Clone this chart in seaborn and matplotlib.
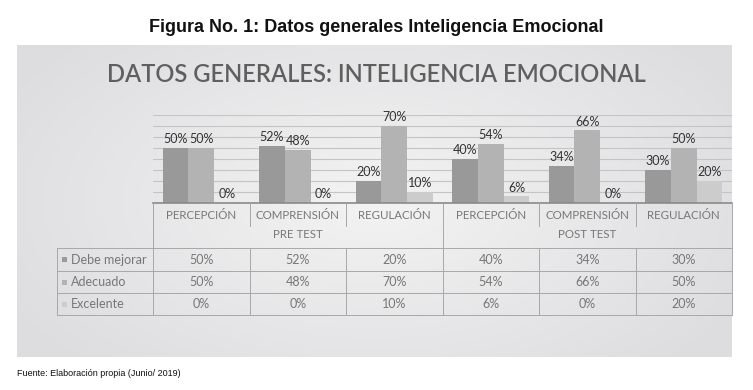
import numpy as np
import pandas as pd
import seaborn as sns
import matplotlib.pyplot as plt
import matplotlib.transforms as mtransforms
from matplotlib.lines import Line2D
from matplotlib.patches import Rectangle

# data
tests = ["PRE TEST", "POST TEST"]
dimensiones = ["PERCEPCIÓN", "COMPRENSIÓN", "REGULACIÓN"]
niveles = ["Debe mejorar", "Adecuado", "Excelente"]
debe_mejorar = [50, 52, 20, 40, 34, 30]
adecuado = [50, 48, 70, 54, 66, 50]
excelente = [0, 0, 10, 6, 0, 20]
colores = ["#999999", "#b3b3b3", "#cccccc"]

W, H = 753, 390
fx = lambda x: x / W
fy = lambda y: 1 - y / H

grupos = [t + "|" + d for t in tests for d in dimensiones]
df = pd.DataFrame({
    "grupo": grupos * 3,
    "nivel": np.repeat(niveles, len(grupos)),
    "valor": debe_mejorar + adecuado + excelente,
})

sns.set_theme(style="white")
plt.rcParams["font.family"] = ["Lato", "DejaVu Sans"]

fig = plt.figure(figsize=(W / 100, H / 100), dpi=100)
fig.patch.set_facecolor("white")

# panel background with a soft radial gradient
bg = fig.add_axes([fx(17), fy(357), fx(732 - 17), (357 - 45) / H], zorder=0)
yy, xx = np.mgrid[-1:1:200j, -1:1:400j]
r = np.sqrt(xx ** 2 + (yy * 0.8) ** 2)
bg.imshow(np.clip(r, 0, 1.2), cmap=sns.blend_palette(["#f3f3f3", "#dddde0"], as_cmap=True),
          aspect="auto", extent=[0, 1, 0, 1], vmin=0, vmax=1.2)
bg.set_axis_off()

fig.text(0.5, fy(27), "Figura No. 1: Datos generales Inteligencia Emocional",
         ha="center", va="center", fontsize=13, fontweight="bold",
         family="Liberation Sans", color="#111111")
fig.text(fx(376), fy(75), "DATOS GENERALES: INTELIGENCIA EMOCIONAL",
         ha="center", va="center", fontsize=17, fontweight="semibold", color="#5f5f5f")
fig.text(fx(17), fy(374), "Fuente: Elaboración propia (Junio/ 2019)",
         ha="left", va="center", fontsize=6.5, family="Liberation Sans", color="#111111")

ax = fig.add_axes([fx(153), fy(203), fx(732 - 153), (203 - 115) / H], zorder=2)
ax.set_facecolor("none")
sns.barplot(data=df, x="grupo", y="valor", hue="nivel", order=grupos, hue_order=niveles,
            palette=colores, width=0.8, saturation=1, legend=False, ax=ax,
            edgecolor="none")
ax.set_ylim(0, 80)
ax.set_xlim(-0.5, len(grupos) - 0.5)
ax.set_yticks(range(0, 81, 10))
ax.yaxis.grid(True, color="#c4c4c4", linewidth=0.8)
ax.set_axisbelow(True)
ax.set_xticks([])
ax.set_yticklabels([])
ax.tick_params(left=False, bottom=False)
ax.set_xlabel("")
ax.set_ylabel("")
for s in ["left", "right", "top"]:
    ax.spines[s].set_visible(False)
ax.spines["bottom"].set_color("#8a8a8a")
ax.spines["bottom"].set_linewidth(1.2)

for cont in ax.containers:
    ax.bar_label(cont, labels=[f"{v:.0f}%" for v in cont.datavalues], padding=2,
                 fontsize=9, color="#333333")

# data table below the axis
bt = mtransforms.blended_transform_factory(ax.transData, fig.transFigure)
line_kw = dict(color="#a8a8a8", linewidth=0.7, zorder=3)

for i, g in enumerate(grupos):
    fig.text(i, fy(215), g.split("|")[1], transform=bt, ha="center", va="center",
             fontsize=8.3, color="#777777")
for j, t in enumerate(tests):
    fig.text(j * 3 + 1, fy(235), t, transform=bt, ha="center", va="center",
             fontsize=8.3, color="#777777")

filas_y = [259.5, 282, 304]
for k, (nom, vals) in enumerate(zip(niveles, [debe_mejorar, adecuado, excelente])):
    fig.add_artist(Rectangle((fx(62), fy(filas_y[k]) - 2.5 / H), 5 / W, 5 / H,
                             facecolor=colores[k], edgecolor="none",
                             transform=fig.transFigure))
    fig.text(fx(71), fy(filas_y[k]), nom, ha="left", va="center",
             fontsize=9, color="#777777")
    for i, v in enumerate(vals):
        fig.text(i, fy(filas_y[k]), f"{v}%", transform=bt, ha="center", va="center",
                 fontsize=9, color="#777777")

for y in [248, 271, 293, 315]:
    fig.add_artist(Line2D([fx(57), fx(732)], [fy(y), fy(y)], transform=fig.transFigure, **line_kw))
fig.add_artist(Line2D([fx(57), fx(57)], [fy(248), fy(315)], transform=fig.transFigure, **line_kw))
for xs in [-0.5, 2.5, 5.5]:
    fig.add_artist(Line2D([xs, xs], [fy(203), fy(315)], transform=bt, **line_kw))
for xs in [0.5, 1.5, 3.5, 4.5]:
    fig.add_artist(Line2D([xs, xs], [fy(203), fy(226)], transform=bt, **line_kw))
    fig.add_artist(Line2D([xs, xs], [fy(203), fy(226)], transform=bt, **line_kw))
    fig.add_artist(Line2D([xs, xs], [fy(248), fy(315)], transform=bt, **line_kw))

fig.savefig("out.png", dpi=100)
